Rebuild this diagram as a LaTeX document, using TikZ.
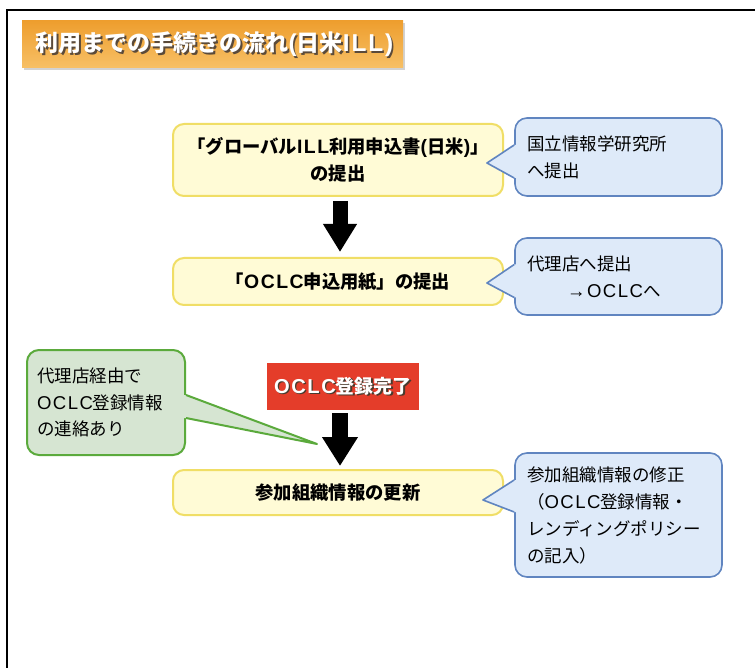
\documentclass[tikz,border=0pt]{standalone}
\usepackage{fontspec}
\setmainfont{Noto Sans CJK JP}
\newfontfamily\lat[Scale=1.06,LetterSpace=8]{Liberation Sans}
\usetikzlibrary{calc,arrows.meta,shadows}
\definecolor{yfill}{HTML}{FFFBD6}
\definecolor{yline}{HTML}{F0DE66}
\definecolor{bfill}{HTML}{DEEAF9}
\definecolor{bline}{HTML}{6085C0}
\definecolor{gfill}{HTML}{D6E5D2}
\definecolor{gline}{HTML}{5BAA3C}
\definecolor{redbox}{HTML}{E43D2A}
\definecolor{otop}{HTML}{EE9E2E}
\definecolor{obot}{HTML}{F7C066}
\definecolor{tshadow}{HTML}{5A4A3A}
\newcommand{\lt}[1]{{\lat #1}}
\begin{document}
\begin{tikzpicture}[x=1pt,y=-1pt,
  ybox/.style={draw=yline, fill=yfill, line width=2pt, rounded corners=11pt,
    align=center, inner sep=0pt, font=\bfseries\fontsize{18.3}{27}\selectfont},
  bbox/.style={draw=bline, fill=bfill, line width=1.6pt, rounded corners=12pt,
    align=left, inner xsep=12pt, inner ysep=0pt, text width=183pt,
    font=\fontsize{17.5}{27}\selectfont},
  gbox/.style={draw=gline, fill=gfill, line width=2pt, rounded corners=12pt,
    align=left, inner xsep=10pt, inner ysep=0pt, text width=138pt,
    font=\fontsize{17.5}{26.5}\selectfont},
  bigarrow/.style={line width=15pt, -{Triangle[width=32pt,length=28pt]}},
  ttlfont/.style={font=\bfseries\fontsize{23}{23}\selectfont},
  redfont/.style={font=\bfseries\fontsize{19}{19}\selectfont},
]
\useasboundingbox (0,0) rectangle (755,668);
\fill[white] (0,0) rectangle (755,668);
\draw[line width=2.4pt] (7,668) -- (7,10) -- (755,10);

% title
\node[minimum width=381pt, minimum height=47pt, inner sep=0pt,
  top color=otop, bottom color=obot,
  drop shadow={opacity=0.35, shadow xshift=1.5pt, shadow yshift=-2pt}] (title) at (212.5,44.5) {};
\node[text=tshadow, ttlfont] (titlesh) at ($(title.center)+(3.5,1.5)$) {利用までの手続きの流れ\lt{(}日米\lt{ILL)}};
\node[text=white, ttlfont] (titletx) at ($(title.center)+(2,0)$) {利用までの手続きの流れ\lt{(}日米\lt{ILL)}};

% main steps
\node[ybox, minimum width=330pt, minimum height=72pt] (s1) at (338,160)
  {「グローバル\lt{ILL}利用申込書\lt{(}日米\lt{)}」\\の提出};
\node[ybox, minimum width=330pt, minimum height=47pt] (s2) at (338,281.5)
  {「\lt{OCLC}申込用紙」の提出};
\node[ybox, minimum width=330pt, minimum height=45pt] (s3) at (338,492.5)
  {参加組織情報の更新};

% red box
\node[fill=redbox, minimum width=152pt, minimum height=47pt, inner sep=0pt] (red) at (343,386.5) {};
\node[text=tshadow!80!black, redfont] (redsh) at ($(red.center)+(1.2,1.2)$) {\lt{OCLC}登録完了};
\node[text=white, redfont] (redtx) at (red.center) {\lt{OCLC}登録完了};

% arrows
\draw[bigarrow] ($(s1.south)+(2,4)$) -- ($(s2.north)+(2,-5)$);
\draw[bigarrow, line width=16pt, -{Triangle[width=34pt,length=29pt]}] ($(red.south)+(-3,3)$) -- ($(s3.north)+(2,-3)$);

% blue callouts
\node[bbox, minimum height=78pt] (b1) at (618.5,157) {国立情報学研究所\\へ提出};
\node[bbox, minimum height=77pt] (b2) at (618.5,276.5) {代理店へ提出\\\hspace*{40pt}\lt{→OCLC}へ};
\node[bbox, minimum height=124pt] (b3) at (618.5,515) {参加組織情報の修正\\（\lt{OCLC}登録情報・\\レンディングポリシー\\の記入）};

\coordinate (t1) at (487,163);
\coordinate (t2) at (487,283);
\coordinate (t3) at (483,500);

\fill[bfill] ($(b1.west)+(2,-12)$) -- ($(b1.west)+(0,-12)$) -- (t1) -- ($(b1.west)+(0,21)$) -- ($(b1.west)+(2,21)$) -- cycle;
\draw[bline, line width=1.6pt, line join=round] ($(b1.west)+(0,-12)$) -- (t1) -- ($(b1.west)+(0,21)$);
\fill[bfill] ($(b2.west)+(2,-12)$) -- ($(b2.west)+(0,-12)$) -- (t2) -- ($(b2.west)+(0,21)$) -- ($(b2.west)+(2,21)$) -- cycle;
\draw[bline, line width=1.6pt, line join=round] ($(b2.west)+(0,-12)$) -- (t2) -- ($(b2.west)+(0,21)$);
\fill[bfill] ($(b3.west)+(2,-35)$) -- ($(b3.west)+(0,-35)$) -- (t3) -- ($(b3.west)+(0,-3)$) -- ($(b3.west)+(2,-3)$) -- cycle;
\draw[bline, line width=1.6pt, line join=round] ($(b3.west)+(0,-35)$) -- (t3) -- ($(b3.west)+(0,-3)$);

% green callout
\node[gbox, minimum width=158pt, minimum height=105pt] (g) at (106,402.5) {代理店経由で\\\lt{OCLC}登録情報\\の連絡あり};
\coordinate (tg) at (317,444);
\fill[gfill] ($(g.east)+(-2,-7.5)$) -- ($(g.east)+(0,-7.5)$) -- (tg) -- ($(g.east)+(0,15.5)$) -- ($(g.east)+(-2,15.5)$) -- cycle;
\draw[gline, line width=2pt, line join=round] ($(g.east)+(0,-7.5)$) -- (tg) -- ($(g.east)+(0,15.5)$);
\end{tikzpicture}
\end{document}
